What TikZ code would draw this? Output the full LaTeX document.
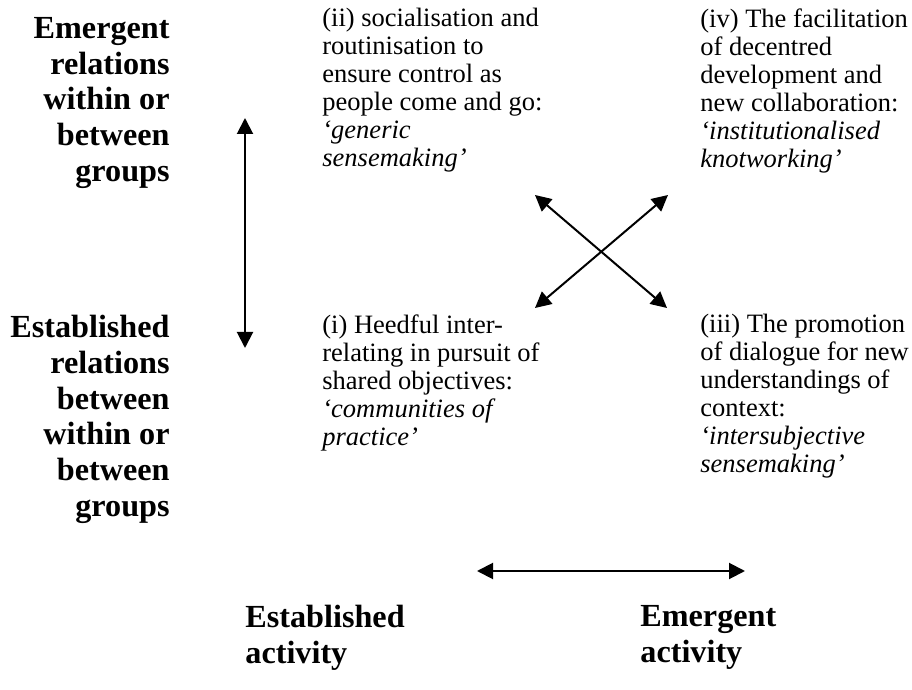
\documentclass[tikz,border=0pt]{standalone}
\usepackage{fontspec}
\setmainfont{Liberation Serif}
\usetikzlibrary{arrows.meta}
\begin{document}
\begin{tikzpicture}[x=0.5pt,y=-0.5pt,
  body/.style={inner sep=0pt,anchor=north west,align=left,
    font=\fontsize{13.25pt}{14pt}\selectfont},
  axislabel/.style={inner sep=0pt,align=right,
    font=\fontsize{16.1pt}{17.85pt}\selectfont\bfseries},
  botlabel/.style={inner sep=0pt,anchor=north west,align=left,
    font=\fontsize{16.1pt}{17.85pt}\selectfont\bfseries},
  dblarrow/.style={line width=1pt,{Triangle[length=8pt,width=8pt]}-{Triangle[length=8pt,width=8pt]}}]
\useasboundingbox (0,0) rectangle (912,690);
% axis labels left
\node[axislabel,anchor=north east] (emrel) at (170,17) {Emergent\\relations\\within or\\between\\groups};
\node[axislabel,anchor=north east] (estrel) at (170,315) {Established\\relations\\between\\within or\\between\\groups};
% quadrant texts
\node[body] (q2) at (322,8) {(ii) socialisation and\\routinisation to\\ensure control as\\people come and go:\\\textit{‘generic}\\\textit{sensemaking’}};
\node[body] (q4) at (700,8) {(iv) The facilitation\\of decentred\\development and\\new collaboration:\\\textit{‘institutionalised}\\\textit{knotworking’}};
\node[body] (q1) at (322,314) {(i) Heedful inter-\\relating in pursuit of\\shared objectives:\\\textit{‘communities of}\\\textit{practice’}};
\node[body] (q3) at (700,314) {(iii) The promotion\\of dialogue for new\\understandings of\\context:\\\textit{‘intersubjective}\\\textit{sensemaking’}};
% bottom labels
\node[botlabel] (estact) at (245,605) {Established\\activity};
\node[botlabel] (emact) at (640,605) {Emergent\\activity};
% arrow end points
\coordinate (vtop) at (245,118);
\coordinate (vbot) at (245,348);
\coordinate (hleft) at (477,571);
\coordinate (hright) at (745,571);
\coordinate (dtl) at (535,195);
\coordinate (dtr) at (668,195);
\coordinate (dbl) at (535,308);
\coordinate (dbr) at (667,308);
% arrows
\draw[dblarrow] (vtop) -- (vbot);
\draw[dblarrow] (hleft) -- (hright);
\draw[dblarrow] (dtl) -- (dbr);
\draw[dblarrow] (dtr) -- (dbl);
\end{tikzpicture}
\end{document}
